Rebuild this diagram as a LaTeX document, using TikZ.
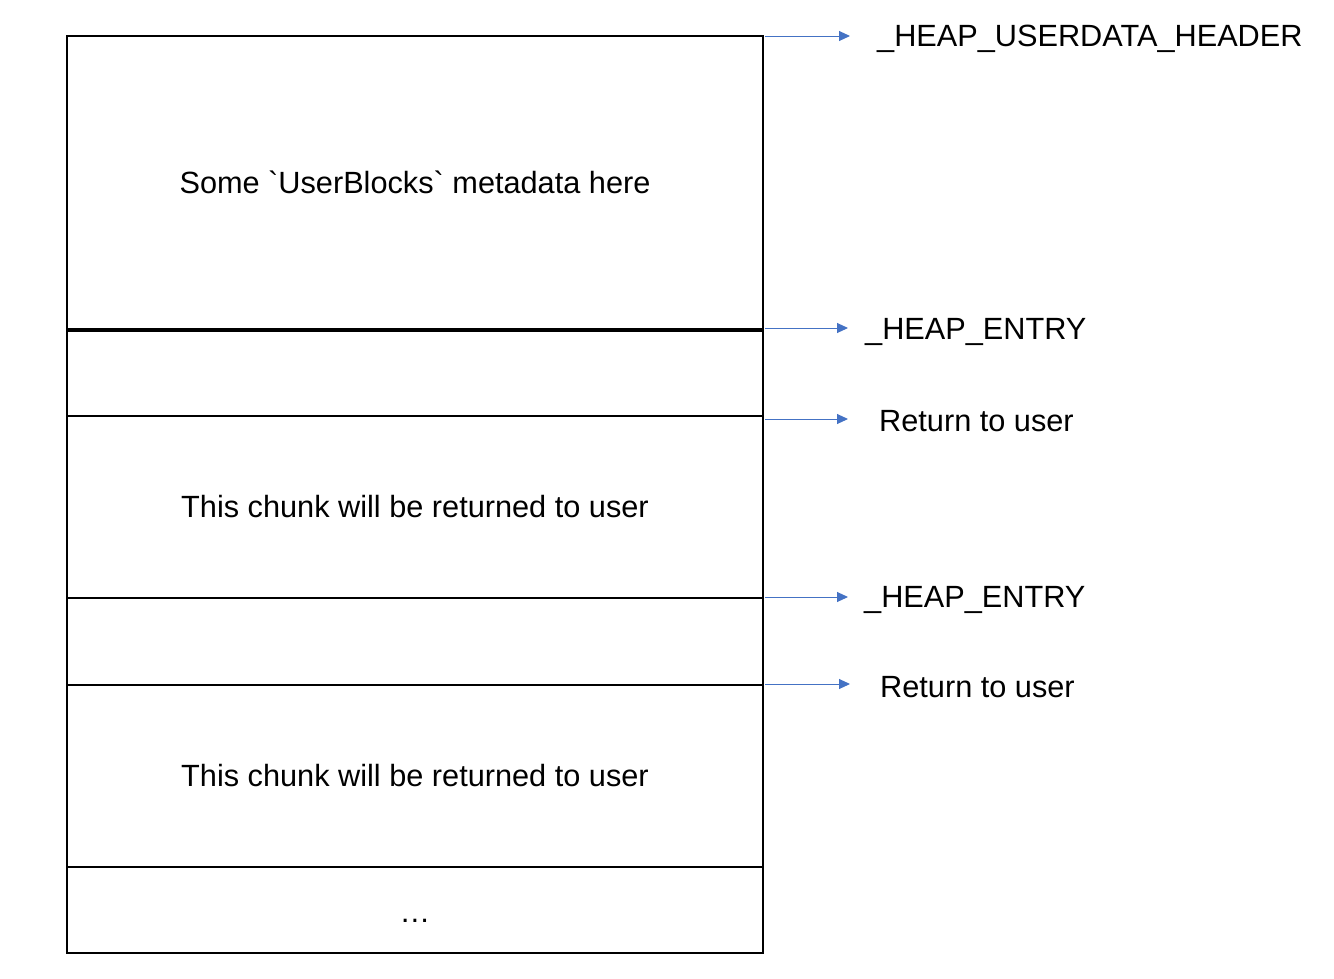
\documentclass[tikz,border=0pt]{standalone}
\usepackage{fontspec}
\setmainfont{Liberation Sans}
\usetikzlibrary{arrows.meta}
\definecolor{arrowblue}{HTML}{4472C4}
\tikzset{
  sect/.style={draw=black, line width=2pt, minimum width=696pt, anchor=north west, inner sep=0pt, font=\fontsize{30.7}{36}\selectfont},
  ptr/.style={draw=arrowblue, line width=1pt, -{Triangle[length=11pt,width=10pt]}},
  lbl/.style={anchor=west, inner sep=0pt, font=\fontsize{30.7}{36}\selectfont}
}
\begin{document}
\begin{tikzpicture}[x=1pt,y=-1pt]
\useasboundingbox (0,0) rectangle (1334,978);
\node[sect, minimum height=293pt] (s1) at (66,35) {Some \textasciigrave UserBlocks\textasciigrave{} metadata here};
\node[sect, minimum height=87pt] (s2) at (66,328) {};
\node[sect, minimum height=182pt] (s3) at (66,415) {This chunk will be returned to user};
\node[sect, minimum height=87pt] (s4) at (66,597) {};
\node[sect, minimum height=182pt] (s5) at (66,684) {This chunk will be returned to user};
\node[sect, minimum height=86pt] (s6) at (66,866) {\raisebox{-24pt}{\dots}};
\draw[line width=3pt] (s1.south west) -- (s1.south east);
\node[lbl] (l1) at (877,39) {\_HEAP\_USERDATA\_HEADER};
\node[lbl] (l2) at (865,332) {\_HEAP\_ENTRY};
\node[lbl] (l3) at (879,421) {Return to user};
\node[lbl] (l4) at (864,600) {\_HEAP\_ENTRY};
\node[lbl] (l5) at (880,687) {Return to user};
\coordinate (e1) at (850,36);
\coordinate (e2) at (848,328);
\coordinate (e3) at (848,419);
\coordinate (e4) at (848,597);
\coordinate (e5) at (850,684);
\draw[ptr] ([xshift=1pt,yshift=-1pt]s1.north east) -- (e1);
\draw[ptr] ([xshift=1pt]s2.north east) -- (e2);
\draw[ptr] ([xshift=1pt,yshift=-4pt]s3.north east) -- (e3);
\draw[ptr] ([xshift=1pt]s4.north east) -- (e4);
\draw[ptr] ([xshift=1pt]s5.north east) -- (e5);
\end{tikzpicture}
\end{document}
